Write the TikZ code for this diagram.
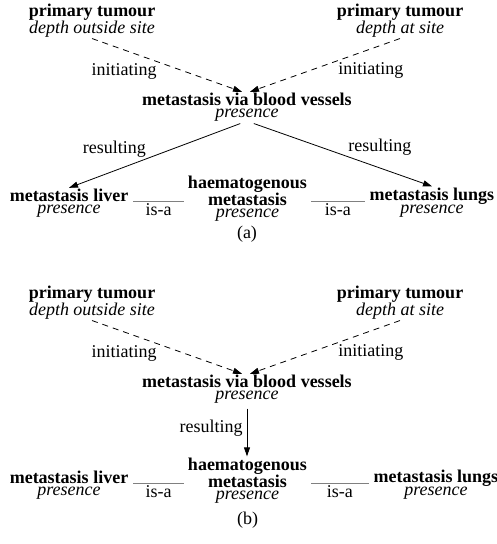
\documentclass[tikz,border=0pt]{standalone}
\usepackage{fontspec}
\setmainfont{Liberation Serif}
\usetikzlibrary{arrows.meta}
\begin{document}
\begin{tikzpicture}[x=1pt,y=-1pt,
  concept/.style={align=center, anchor=base, inner sep=1pt, font=\fontsize{18}{12}\selectfont},
  lbl/.style={inner sep=1pt, font=\fontsize{18}{12}\selectfont},
  tip/.style={-{Triangle[length=9pt,width=6pt]}},
  initarrow/.style={draw, dash pattern=on 6pt off 5pt, line width=0.8pt, tip},
  resarrow/.style={draw, line width=0.8pt, tip},
  isaline/.style={draw, gray, line width=1.3pt},
]
\useasboundingbox (0,0) rectangle (496,544);

% ---------------- panel (a) ----------------
% (node positions give the baseline of the last line)
\node[concept] (pta) at (92,33.5) {\textbf{primary tumour}\\\textit{depth outside site}};
\node[concept] (ptb) at (400,33.5) {\textbf{primary tumour}\\\textit{depth at site}};
\node[concept] (mv) at (247,117.5) {\textbf{metastasis via blood vessels}\\\textit{presence}};
\node[concept] (liv) at (69,213.5) {\textbf{metastasis liver}\\\textit{presence}};
\node[concept] (hae) at (247.5,217.5) {\textbf{haematogenous}\\\textbf{metastasis}\\\textit{presence}};
\node[concept] (lun) at (432,213.5) {\textbf{metastasis lungs}\\\textit{presence}};

\coordinate (livr) at ([xshift=4pt,yshift=12pt]liv.base east);
\coordinate (lunl) at ([xshift=-4pt,yshift=12pt]lun.base west);

\draw[initarrow] (pta.south) -- node[lbl, pos=0.44, anchor=north east] {initiating} ([xshift=-5pt]mv.north);
\draw[initarrow] (ptb.south) -- node[lbl, pos=0.42, anchor=north west] {initiating} ([xshift=3pt]mv.north);
\draw[resarrow, shorten <=3pt] ([xshift=-4pt]mv.south) -- node[lbl, pos=0.55, anchor=south east] {resulting} (liv.north);
\draw[resarrow, shorten <=3pt] ([xshift=4pt]mv.south) -- node[lbl, pos=0.53, anchor=south west] {resulting} (lun.north);
\draw[isaline] (livr) -- node[lbl, below, text=black] {is-a} ([xshift=-3pt]livr -| hae.west);
\draw[isaline] ([xshift=3pt]hae.east |- lunl) -- node[lbl, below, text=black] {is-a} (lunl);

\node[lbl, anchor=base] (capa) at (247,238) {(a)};

% ---------------- panel (b) ----------------
\node[concept] (pta2) at (92,315.5) {\textbf{primary tumour}\\\textit{depth outside site}};
\node[concept] (ptb2) at (400,315.5) {\textbf{primary tumour}\\\textit{depth at site}};
\node[concept] (mv2) at (247,399.5) {\textbf{metastasis via blood vessels}\\\textit{presence}};
\node[concept] (liv2) at (69,495.5) {\textbf{metastasis liver}\\\textit{presence}};
\node[concept] (hae2) at (247.5,499.5) {\textbf{haematogenous}\\\textbf{metastasis}\\\textit{presence}};
\node[concept] (lun2) at (436,495.5) {\textbf{metastasis lungs}\\\textit{presence}};

\coordinate (livr2) at ([xshift=4pt,yshift=12pt]liv2.base east);
\coordinate (lunl2) at ([xshift=-4pt,yshift=12pt]lun2.base west);

\draw[initarrow] (pta2.south) -- node[lbl, pos=0.44, anchor=north east] {initiating} ([xshift=-5pt]mv2.north);
\draw[initarrow] (ptb2.south) -- node[lbl, pos=0.42, anchor=north west] {initiating} ([xshift=3pt]mv2.north);
\draw[resarrow, shorten <=4pt] (mv2.south) -- node[lbl, pos=0.45, left, inner sep=4pt] {resulting} (mv2.south |- hae2.north);
\draw[isaline] (livr2) -- node[lbl, below, text=black] {is-a} ([xshift=-3pt]livr2 -| hae2.west);
\draw[isaline] ([xshift=3pt]hae2.east |- lunl2) -- node[lbl, below, text=black] {is-a} (lunl2);

\node[lbl, anchor=base] (capb) at (247.5,524) {(b)};
\end{tikzpicture}
\end{document}
